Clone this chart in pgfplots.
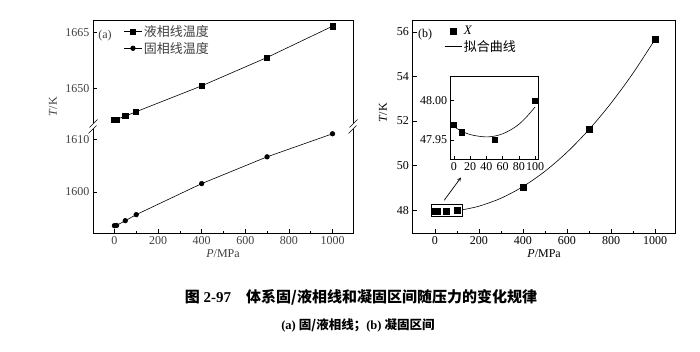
\documentclass[border=0pt]{standalone}
\usepackage{pgfplots}
\pgfplotsset{compat=1.18}
\usepackage{fontspec}
\setmainfont{Liberation Serif}
\newfontfamily\cjk{Noto Sans CJK SC}
\begin{document}
\begin{tikzpicture}[x=1pt,y=1pt]
\useasboundingbox (0,0) rectangle (700,352);
\pgfplotsset{
  every axis/.append style={
    scale only axis,
    font=\fontsize{12}{14}\selectfont,
    /pgf/number format/assume math mode=true,
    /pgf/number format/set thousands separator={},
    tick style={black, line width=0.6pt},
    major tick length=4pt, minor tick length=2.5pt,
    tick align=inside,
    clip=false,
  }
}
% ---------------- (a) upper part: liquidus ----------------
\begin{axis}[at={(93pt,225.3pt)}, anchor=south west, width=260pt, height=106pt,
  xmin=-98, xmax=1094, ymin=1639.6, ymax=1668.2,
  xtick=\empty, ytick={1650,1665}, ytick pos=left,
  axis line style={draw=none},
  yticklabel style={black!75},
  legend style={at={(0.119,0.975)}, anchor=north west, draw=none, fill=none,
    font=\cjk\fontsize{13}{15}\selectfont, text=black!75, inner sep=0pt, row sep=0pt},
  legend cell align=left]
\addplot[black, line width=0.6pt, mark=square*, mark size=2.6pt] coordinates {
  (0,1641.52) (10,1641.56) (50,1642.45) (100,1643.65) (400,1650.61) (700,1658.28) (1000,1666.71)};
\addlegendentry{液相线温度}
\addlegendimage{black, line width=0.6pt, mark=*, mark size=2.3pt}
\addlegendentry{固相线温度}
\draw[line width=0.7pt] (rel axis cs:0,0) -- (rel axis cs:0,1) -- (rel axis cs:1,1) -- (rel axis cs:1,0);
\end{axis}
% ---------------- (a) lower part: solidus ----------------
\begin{axis}[at={(93pt,118.7pt)}, anchor=south west, width=260pt, height=106.6pt,
  xmin=-98, xmax=1094, ymin=1592.1, ymax=1612.4,
  xtick={0,200,...,1000}, minor xtick={100,300,...,900},
  ytick={1600,1610}, xtick pos=bottom, ytick pos=left,
  axis line style={draw=none},
  ticklabel style={black!75},
  xlabel={\textit{P}/MPa}, xlabel style={black!75, yshift=2pt}]
\addplot[black, line width=0.6pt, mark=*, mark size=2.3pt] coordinates {
  (0,1593.55) (10,1593.6) (50,1594.5) (100,1595.65) (400,1601.56) (700,1606.66) (1000,1611.05)};
\draw[line width=0.7pt] (rel axis cs:0,1) -- (rel axis cs:0,0) -- (rel axis cs:1,0) -- (rel axis cs:1,1);
\end{axis}
% break marks
\fill[white] (90,222.5) rectangle (96,228.5);
\fill[white] (350,222.5) rectangle (356,228.5);
\foreach \xx in {93,353}{
  \draw[line width=0.6pt] (\xx-4.5,218.5) -- (\xx+3.5,226.5);
  \draw[line width=0.6pt] (\xx-3.5,224.5) -- (\xx+4.5,232.5);
}
\node[font=\fontsize{12}{14}\selectfont, text=black!75] at (105,316) {(a)};
\node[rotate=90, font=\fontsize{12}{14}\selectfont, text=black!75] at (53,245) {\textit{T}/K};
% ---------------- (b) main ----------------
\begin{axis}[at={(412.5pt,118.7pt)}, anchor=south west, width=263.2pt, height=212.6pt,
  xmin=-102, xmax=1094, ymin=46.97, ymax=56.5,
  xtick={0,200,...,1000}, minor xtick={100,300,...,900},
  ytick={48,50,...,56}, tick pos=left,
  axis line style={line width=0.7pt},
  xlabel={\textit{P}/MPa}, xlabel style={yshift=2pt},
  legend style={at={(0.12,0.985)}, anchor=north west, draw=none, fill=none,
    font=\fontsize{13}{15}\selectfont, inner sep=0pt, row sep=0pt},
  legend cell align=left]
\addplot[only marks, mark=square*, mark size=2.9pt] coordinates {
  (0,47.97) (10,47.96) (50,47.95) (100,48.00) (400,49.05) (700,51.62) (1000,55.66)};
\addlegendentry{\textit{X}}
\addplot[black, line width=0.6pt, smooth] coordinates {
  (126,48.027) (200,48.185) (300,48.542) (400,49.064) (500,49.751) (600,50.603)
  (700,51.620) (800,52.802) (900,54.148) (1000,55.660)};
\addlegendentry{{\cjk 拟合曲线}}
\draw[line width=0.6pt] (axis cs:-15,47.73) rectangle (axis cs:126,48.27);
\draw[line width=0.7pt, -stealth] (axis cs:42,48.45) -- (axis cs:118,49.47);
\end{axis}
\node[font=\fontsize{12}{14}\selectfont] at (425,317) {(b)};
\node[rotate=90, font=\fontsize{12}{14}\selectfont] at (383,239) {\textit{T}/K};
% ---------------- (b) inset ----------------
\begin{axis}[at={(450.7pt,193pt)}, anchor=south west, width=87.6pt, height=82.3pt,
  xmin=-4, xmax=104, ymin=47.926, ymax=48.0305,
  xtick={0,20,...,100}, ytick={47.95,48.00}, tick pos=left,
  major tick length=3pt,
  yticklabel style={/pgf/number format/.cd, fixed, fixed zerofill, precision=2},
  xticklabel style={inner xsep=0pt},
  axis line style={line width=0.7pt},
  axis background/.style={fill=white}]
\addplot[only marks, mark=square*, mark size=2.6pt] coordinates {
  (0,47.970) (10,47.960) (50,47.950) (100,48.000)};
\addplot[black, line width=0.6pt, smooth] coordinates {
  (0,47.967) (10,47.961) (20,47.957) (30,47.955) (40,47.954) (50,47.955) (60,47.958)
  (70,47.963) (80,47.970) (90,47.980) (100,47.992)};
\end{axis}
% ---------------- caption ----------------
\node[font=\fontsize{15}{18}\selectfont] at (361,55) {{\cjk\bfseries 图} \textbf{2-97}\quad{\cjk\bfseries 体系固/液相线和凝固区间随压力的变化规律}};
\node[font=\fontsize{12.5}{14}\selectfont] at (358,27) {\textbf{(a)} {\cjk\bfseries 固/液相线；}\textbf{(b)} {\cjk\bfseries 凝固区间}};
\end{tikzpicture}
\end{document}
